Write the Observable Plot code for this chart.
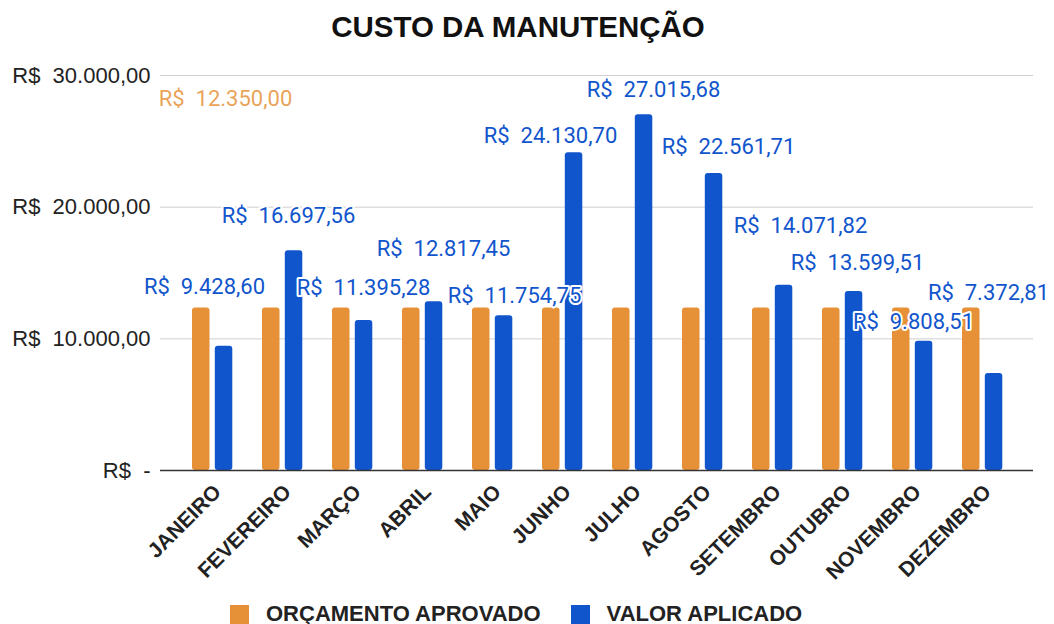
<!DOCTYPE html>
<html><head><meta charset="utf-8">
<script src="https://cdn.jsdelivr.net/npm/d3@7"></script>
<script src="https://cdn.jsdelivr.net/npm/@observablehq/plot@0.6"></script>
<style>
body{margin:0;background:#fff;width:1054px;height:624px;overflow:hidden;position:relative;font-family:"Liberation Sans",Arial,sans-serif}
#title{position:absolute;top:0;left:0;width:1036px;height:54px;line-height:54px;text-align:center;font-weight:bold;font-size:29.5px;color:#111}
#chart{position:absolute;top:50px;left:0}
#legend{position:absolute;top:604px;left:230px;display:flex;align-items:center;font-weight:bold;font-size:22px;color:#222;line-height:20px}
.sw{width:19px;height:19px;display:inline-block;margin-right:17px}
.item{display:flex;align-items:center;margin-right:30px}
</style></head><body>
<div id="title">CUSTO DA MANUTENÇÃO</div>
<div id="chart"></div>
<div id="legend"></div>
<script>
const months = ["JANEIRO","FEVEREIRO","MARÇO","ABRIL","MAIO","JUNHO","JULHO","AGOSTO","SETEMBRO","OUTUBRO","NOVEMBRO","DEZEMBRO"];
const approved = [12350,12350,12350,12350,12350,12350,12350,12350,12350,12350,12350,12350];
const applied = [9428.60,16697.56,11395.28,12817.45,11754.75,24130.70,27015.68,22561.71,14071.82,13599.51,9808.51,7372.81];
const yTicks = [0,10000,20000,30000];
const seriesNames = ["ORÇAMENTO APROVADO","VALOR APLICADO"];
const seriesColors = ["#e69138","#1155cc"];
// label nudges in pixels (styling only)
const labelDx = [-8,6,11,21,22,-12,21,26,28,15,1,6];
const labelDy = [-59,-34.5,-33,-53,-20,-17,-25,-26,-59,-28,-19,-80];

const ptBR = d3.formatLocale({decimal:",",thousands:".",grouping:[3],currency:["R$",""]});
const num = ptBR.format(",.2f");
const money = v => "R$\u00a0\u00a0" + num(v);
const tickMoney = v => v === 0 ? "R$\u00a0\u00a0-" : money(v);

const data = months.map((m,i)=>({month:m, approved:approved[i], applied:applied[i], i}));

const labelOpts = {fontSize:22, fontFamily:"Roboto", stroke:"white", strokeWidth:4, paintOrder:"stroke"};

const chart = Plot.plot({
  width:1054, height:550,
  marginTop:25, marginBottom:130, marginLeft:160, marginRight:21,
  style:{fontFamily:"'Liberation Sans', Arial, sans-serif", fontSize:"22px", color:"#222", background:"#fff"},
  x:{domain:months, paddingInner:0, paddingOuter:0.196, label:null},
  y:{domain:[0,30000], label:null},
  marks:[
    Plot.ruleY(yTicks.filter(d=>d>0), {stroke:"#cfcfcf", strokeWidth:1}),
    Plot.barY(data, {x:"month", y:"approved", fill:seriesColors[0], insetLeft:15, insetRight:37.5, rx:3}),
    Plot.barY(data, {x:"month", y:"applied", fill:seriesColors[1], insetLeft:37.8, insetRight:14.7, rx:3}),
    Plot.ruleY([0], {stroke:"#333", strokeWidth:1.5}),
    Plot.axisY(yTicks, {tickSize:0, tickPadding:10, tickFormat:tickMoney, fontSize:22, fill:"#222", label:null}),
    Plot.axisX({tickRotate:-45, tickSize:0, tickPadding:18, dx:5, fontWeight:"bold", fontSize:21, fill:"#222", label:null}),
    Plot.text([data[0]], {x:"month", y:"approved", text:d=>money(d.approved), fill:seriesColors[0], fillOpacity:0.85,
      dx:13, dy:-209, ...labelOpts}),
    ...data.map((d,i)=>Plot.text([d], {x:"month", y:"applied", text:e=>money(e.applied), fill:seriesColors[1],
      dx:labelDx[i], dy:labelDy[i], ...labelOpts}))
  ]
});
document.getElementById("chart").appendChild(chart);

const legend = document.getElementById("legend");
seriesNames.forEach((n,i)=>{
  const it = document.createElement("div"); it.className="item";
  const sw = document.createElement("span"); sw.className="sw"; sw.style.background=seriesColors[i];
  const tx = document.createElement("span"); tx.textContent=n;
  it.appendChild(sw); it.appendChild(tx); legend.appendChild(it);
});
</script>
</body></html>
